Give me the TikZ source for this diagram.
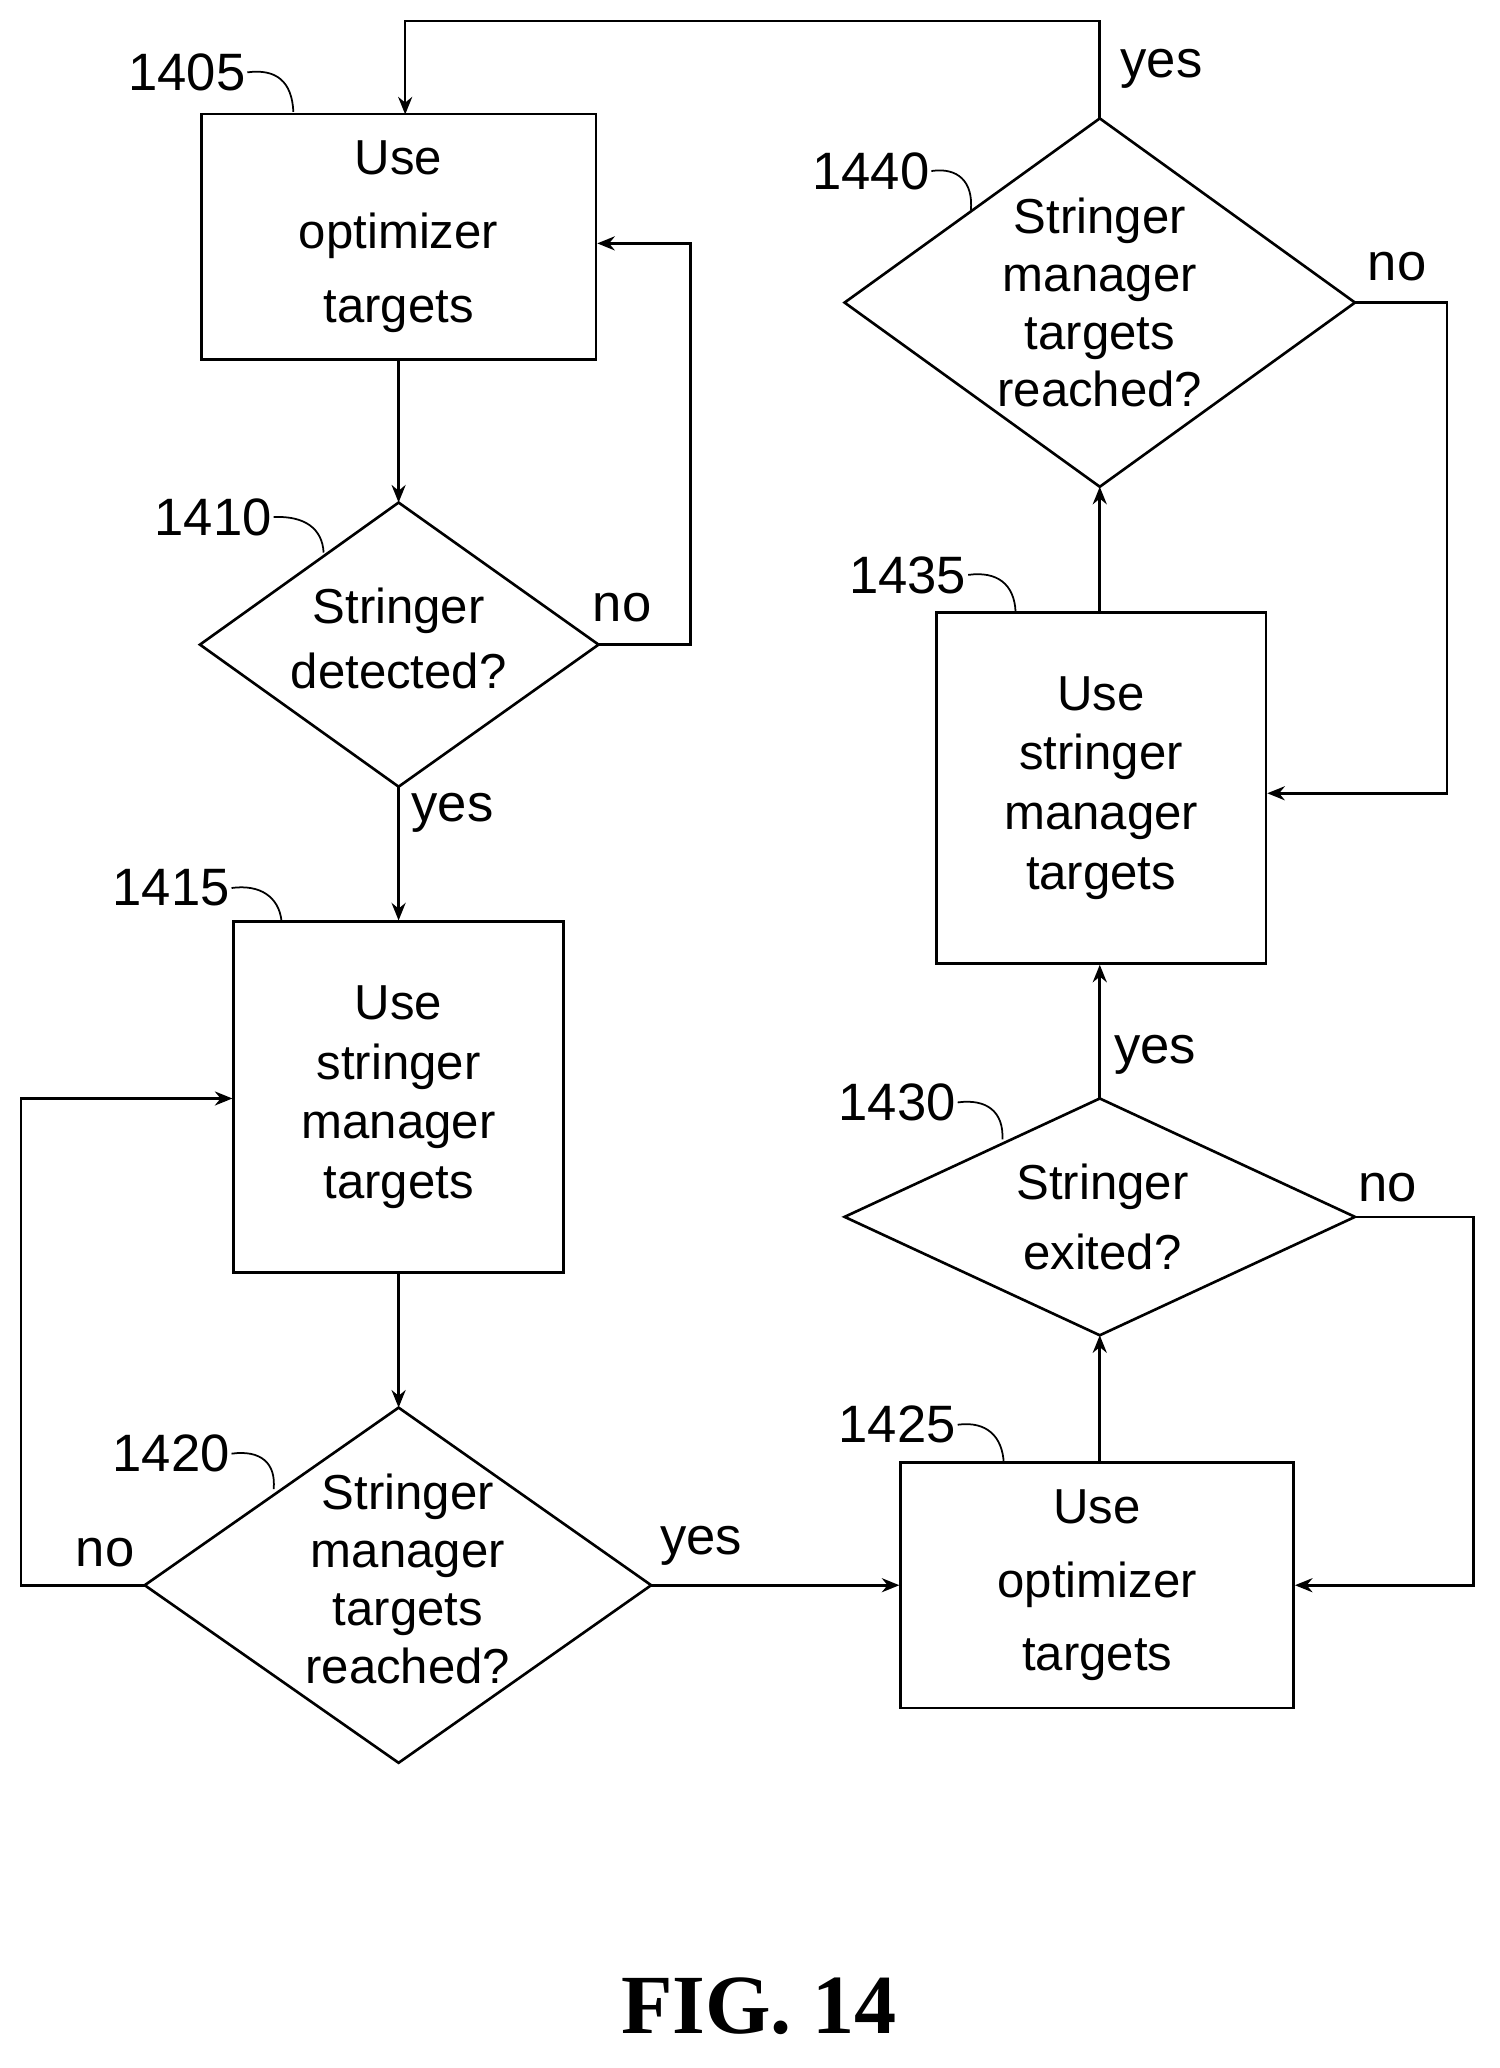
\documentclass[tikz,border=0pt]{standalone}
\usepackage{fontspec}
\setmainfont{Liberation Sans}
\usetikzlibrary{shapes.geometric,arrows.meta}
\tikzset{every picture/.style={line width=0.75pt}}
\tikzset{
  procbox/.style={draw,line width=1.5pt,inner sep=0pt,align=center,font=\fontsize{28}{34}\selectfont},
  lab/.style={inner sep=0.75pt,font=\fontsize{30}{32}\selectfont},
  flow/.style={line width=1.5pt,-{Stealth[length=10pt,width=8pt]}},
  lead/.style={line width=1pt},
}
\begin{document}
\begin{tikzpicture}[x=0.75pt,y=0.75pt,yscale=-1,xscale=1]
\useasboundingbox (0,0) rectangle (1140,1572);

% Boxes
\node [procbox,minimum width=225pt,minimum height=140pt,font=\fontsize{28}{42}\selectfont] (b1405) at (303,180) {Use\\optimizer\\targets};
\node [procbox,minimum width=188pt,minimum height=200pt] (b1415) at (303,834) {Use\\stringer\\manager\\targets};
\node [procbox,minimum width=224pt,minimum height=140pt,font=\fontsize{28}{42}\selectfont] (b1425) at (834,1205) {Use\\optimizer\\targets};
\node [procbox,minimum width=188pt,minimum height=200pt] (b1435) at (837,599) {Use\\stringer\\manager\\targets};

% Diamonds
\draw [line width=1.5pt] (303,382) -- (455,490) -- (303,598) -- (152,490) -- cycle;
\node [inner sep=0pt,align=center,font=\fontsize{28}{37}\selectfont] (d1410) at (303,485) {Stringer\\detected?};
\coordinate (d1410n) at (303,382); \coordinate (d1410e) at (455,490); \coordinate (d1410s) at (303,598);
\draw [line width=1.5pt] (303,1070) -- (495,1205) -- (303,1340) -- (110,1205) -- cycle;
\node [inner sep=0pt,align=center,font=\fontsize{28}{33}\selectfont] (d1420) at (310,1200) {Stringer\\manager\\targets\\reached?};
\coordinate (d1420n) at (303,1070); \coordinate (d1420e) at (495,1205); \coordinate (d1420w) at (110,1205);
\draw [line width=1.5pt] (836,835) -- (1030,925) -- (836,1015) -- (642,925) -- cycle;
\node [inner sep=0pt,align=center,font=\fontsize{28}{40}\selectfont] (d1430) at (838,925) {Stringer\\exited?};
\coordinate (d1430n) at (836,835); \coordinate (d1430e) at (1030,925); \coordinate (d1430s) at (836,1015);
\draw [line width=1.5pt] (836,90) -- (1030,230) -- (836,370) -- (642,230) -- cycle;
\node [inner sep=0pt,align=center,font=\fontsize{28}{33}\selectfont] (d1440) at (836,230) {Stringer\\manager\\targets\\reached?};
\coordinate (d1440n) at (836,90); \coordinate (d1440e) at (1030,230); \coordinate (d1440s) at (836,370);

% Flow
\draw [flow] (b1405.south) -- (d1410n);
\draw [flow] (d1410e) -- (525,490) -- (525,185) -- (b1405.east |- 0,185);
\draw [flow] (d1410s) -- (b1415.north);
\draw [flow] (b1415.south) -- (d1420n);
\draw [flow] (d1420w) -- (16,1205) -- (16,835) -- (b1415.west |- 0,835);
\draw [flow] (d1420e) -- (b1425.west);
\draw [flow] (b1425.north -| d1430s) -- (d1430s);
\draw [flow] (d1430e) -- (1120,925) -- (1120,1205) -- (b1425.east);
\draw [flow] (d1430n) -- (b1435.south -| d1430n);
\draw [flow] (b1435.north -| d1440s) -- (d1440s);
\draw [flow] (d1440e) -- (1100,230) -- (1100,603) -- (b1435.east |- 0,603);
\draw [flow] (d1440n) -- (836,16) -- (308,16) -- (308,87);

% Branch labels
\node [lab] (n1) at (473,462) {no};
\node [lab] (y1) at (344,618) {yes};
\node [lab] (n2) at (80,1180) {no};
\node [lab] (y2) at (533,1175) {yes};
\node [lab] (n3) at (1055,903) {no};
\node [lab] (y3) at (878,802) {yes};
\node [lab] (n4) at (1062,203) {no};
\node [lab] (y4) at (883,52) {yes};

% Reference numerals
\node [lab,anchor=east] (r1405) at (188,55) {1405};
\draw [lead] (r1405.east) .. controls (210,52) and (222,62) .. (223,85);
\node [lab,anchor=east] (r1410) at (208,393) {1410};
\draw [lead] (r1410.east) .. controls (232,392) and (245,402) .. (246,420);
\node [lab,anchor=east] (r1415) at (176,675) {1415};
\draw [lead] (r1415.east) .. controls (198,672) and (212,682) .. (214,700);
\node [lab,anchor=east] (r1420) at (176,1105) {1420};
\draw [lead] (r1420.east) .. controls (198,1102) and (210,1112) .. (208,1132);
\node [lab,anchor=east] (r1425) at (728,1083) {1425};
\draw [lead] (r1425.east) .. controls (750,1080) and (762,1092) .. (763,1112);
\node [lab,anchor=east] (r1430) at (728,838) {1430};
\draw [lead] (r1430.east) .. controls (750,835) and (763,845) .. (762,866);
\node [lab,anchor=east] (r1435) at (736,437) {1435};
\draw [lead] (r1435.east) .. controls (758,434) and (771,444) .. (772,465);
\node [lab,anchor=east] (r1440) at (708,130) {1440};
\draw [lead] (r1440.east) .. controls (728,127) and (740,138) .. (738,160);

% Caption
\node [inner sep=0pt,font=\fontsize{48}{50}\selectfont\bfseries\fontspec{Liberation Serif}] (fig) at (577,1525) {FIG. 14};
\end{tikzpicture}
\end{document}
